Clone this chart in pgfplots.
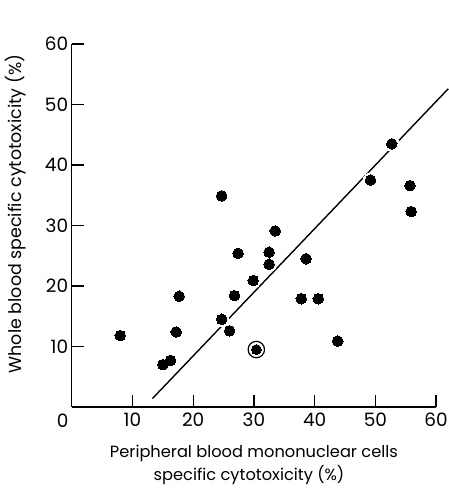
\documentclass[border=0pt]{standalone}
\usepackage{fontspec}
\setmainfont{Poppins}
\usepackage{pgfplots}
\pgfplotsset{compat=1.18}
\pgfplotstableread{
x y
8.0 11.8
15.0 7.0
16.3 7.7
17.2 12.4
17.7 18.3
24.7 14.5
24.7 34.9
26.0 12.6
26.8 18.4
27.4 25.4
29.9 20.9
32.5 25.6
32.5 23.6
33.5 29.1
37.8 17.9
38.6 24.5
40.6 17.9
43.8 10.9
49.2 37.5
52.7 43.5
55.7 36.6
55.9 32.3
}\pts
\begin{document}
\begin{tikzpicture}
\begin{axis}[
 scale only axis, width=364.4bp, height=363bp,
 xmin=0, xmax=60, ymin=0, ymax=60,
 axis x line=bottom, axis y line=left,
 axis line style={-, line width=1.4bp},
 xtick={10,20,...,60}, ytick={10,20,...,60},
 tick align=inside, major tick length=12bp,
 tick style={line width=1.3bp, black},
 ticklabel style={font=\fontsize{18.5}{18.5}\selectfont},
 xticklabel style={yshift=-2bp},
 /pgf/number format/assume math mode=true,
 clip=false,
]
\addplot[no marks, line width=1.4bp] coordinates {(13.3,1.4) (62,52.6)};
\addplot[white, only marks, mark=*, mark size=7.3bp, mark options={fill=white, draw=white, line width=0pt}] table {\pts};
\addplot[black, only marks, mark=*, mark size=5.3bp, mark options={fill=black, draw=black, line width=0pt}] table {\pts};
\addplot[black, only marks, mark=*, mark size=8.2bp, mark options={fill=white, draw=black, line width=1.2bp}] coordinates {(30.4,9.5)};
\addplot[black, only marks, mark=*, mark size=4.9bp, mark options={fill=black, draw=black, line width=0pt}] coordinates {(30.4,9.5)};
\node[font=\fontsize{18.5}{18.5}\selectfont] at (axis cs:-1.47,-2.26) {0};
\node[rotate=90, font=\fontsize{17.5}{17.5}\selectfont] at (axis cs:-9.3,31.9) {Whole blood specific cytotoxicity (\%)};
\node[anchor=base, font=\fontsize{16.3}{16.3}\selectfont] at (axis cs:30.0,-8.3) {Peripheral blood mononuclear cells};
\node[anchor=base, font=\fontsize{16.3}{16.3}\selectfont] at (axis cs:29.2,-12.2) {specific cytotoxicity (\%)};
\coordinate (bl) at (axis cs:-11.80,-13.88);
\coordinate (tr) at (axis cs:62.0,67.27);
\end{axis}
\pgfresetboundingbox
\path[use as bounding box] (bl) rectangle (tr);
\end{tikzpicture}
\end{document}
